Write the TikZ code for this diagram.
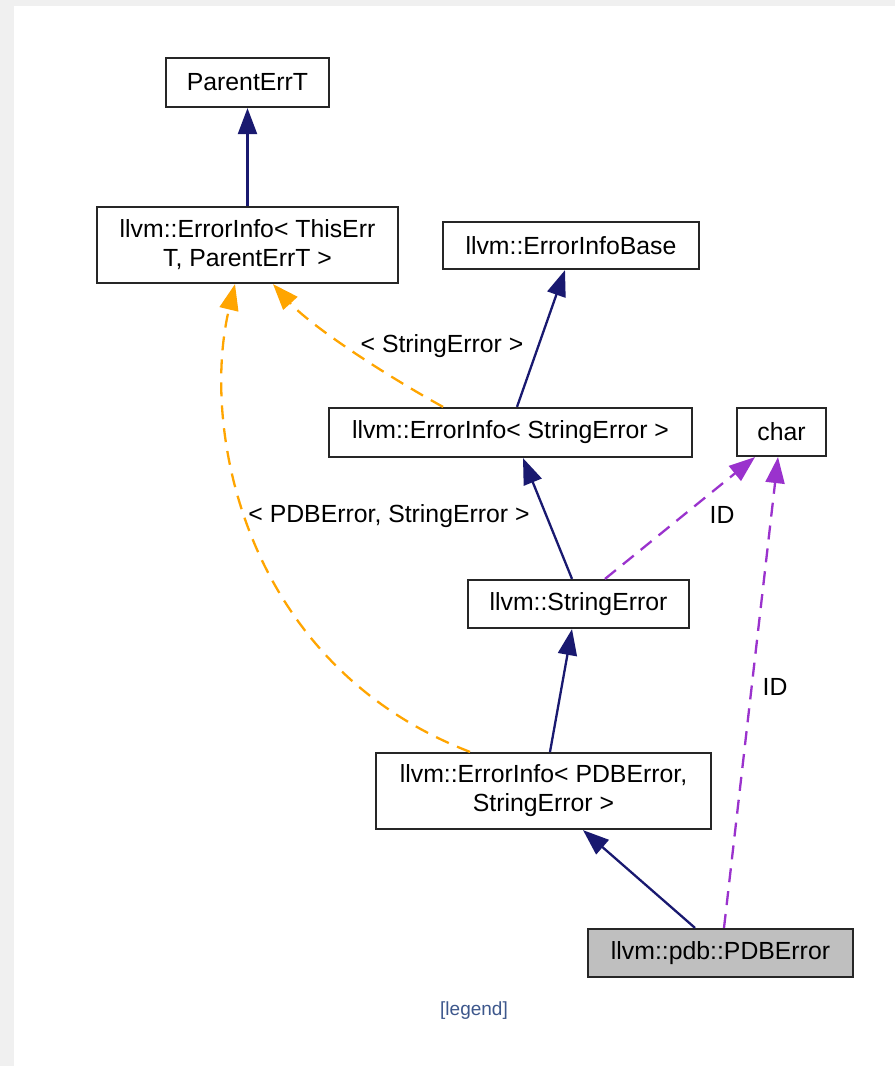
\documentclass[tikz,border=0pt]{standalone}
\usepackage{fontspec}
\setmainfont{Liberation Sans}
\usetikzlibrary{arrows.meta}
\definecolor{inhblue}{HTML}{191970}
\definecolor{tplorange}{HTML}{FFA500}
\definecolor{usepurple}{HTML}{9A32CD}
\definecolor{legendblue}{HTML}{3D578C}
\definecolor{pagegray}{HTML}{F0F0F0}
\definecolor{boxgray}{HTML}{BFBFBF}
\begin{document}
\begin{tikzpicture}[x=1pt,y=-1pt]
  \tikzstyle{every node}+=[inner sep=0pt, font=\fontsize{24.8}{29}\selectfont]
  \tikzstyle{cls}=[draw=black!85, line width=2.2pt, align=center, fill=white]
  \tikzstyle{inhedge}=[draw=inhblue, line width=2.3pt, -{Triangle[length=26pt,width=19pt]}]
  \tikzstyle{tpledge}=[draw=tplorange, line width=2.3pt, dash pattern=on 14pt off 9pt, -{Triangle[length=26pt,width=19pt]}]
  \tikzstyle{useedge}=[draw=usepurple, line width=2.3pt, dash pattern=on 14pt off 9pt, -{Triangle[length=26pt,width=19pt]}]
  \useasboundingbox (0,0) rectangle (895,1066);
  \fill [pagegray] (0,0) rectangle (895,1066);
  \fill [white] (14,6) rectangle (895,1066);
  \node [cls, minimum width=163pt, minimum height=49pt] (parent) at (247.5,82.5) {ParentErrT};
  \node [cls, minimum width=301pt, minimum height=76pt] (errinfotpl) at (247.5,245) {llvm::ErrorInfo< ThisErr\\T, ParentErrT >};
  \node [cls, minimum width=256pt, minimum height=47pt] (infobase) at (571,245.5) {llvm::ErrorInfoBase};
  \node [cls, minimum width=363pt, minimum height=49pt] (errinfostr) at (510.5,432.5) {llvm::ErrorInfo< StringError >};
  \node [cls, minimum width=89pt, minimum height=48pt] (chr) at (781.5,432) {char};
  \node [cls, minimum width=221pt, minimum height=48pt] (strerr) at (578.5,604) {llvm::StringError};
  \node [cls, minimum width=335pt, minimum height=76pt] (errinfopdb) at (543.5,791) {llvm::ErrorInfo< PDBError,\\StringError >};
  \node [cls, fill=boxgray, minimum width=265pt, minimum height=48pt] (pdberr) at (720.5,953) {llvm::pdb::PDBError};
  \draw [inhedge] (errinfotpl) -- (parent);
  \draw [inhedge] ([xshift=6.5pt]errinfostr.north) -- ([xshift=-6pt]infobase.south);
  \draw [tpledge] ([xshift=-67.5pt]errinfostr.north) .. controls (380,372) and (310,325) .. ([xshift=25.5pt]errinfotpl.south);
  \node (lblstr) at (442,346) {< StringError >};
  \draw [inhedge] ([xshift=-6.5pt]strerr.north) -- ([xshift=12.5pt]errinfostr.south);
  \draw [useedge] ([xshift=26.5pt]strerr.north) -- ([xshift=-26.5pt]chr.south);
  \node (lblid1) at (722,515) {ID};
  \draw [inhedge] ([xshift=6.5pt]errinfopdb.north) -- ([xshift=-6.5pt]strerr.south);
  \draw [tpledge] ([xshift=-73.5pt]errinfopdb.north) .. controls (245,665) and (200,430) .. ([xshift=-12.5pt]errinfotpl.south);
  \node (lblpdb) at (389,516) {< PDBError, StringError >};
  \draw [inhedge] ([xshift=-25.5pt]pdberr.north) -- ([xshift=39.5pt]errinfopdb.south);
  \draw [useedge] ([xshift=3.5pt]pdberr.north) -- ([xshift=-3.5pt]chr.south);
  \node (lblid2) at (775,687) {ID};
  \node [text=legendblue, font=\fontsize{19}{23}\selectfont] (legend) at (474,1011) {[legend]};
\end{tikzpicture}
\end{document}
